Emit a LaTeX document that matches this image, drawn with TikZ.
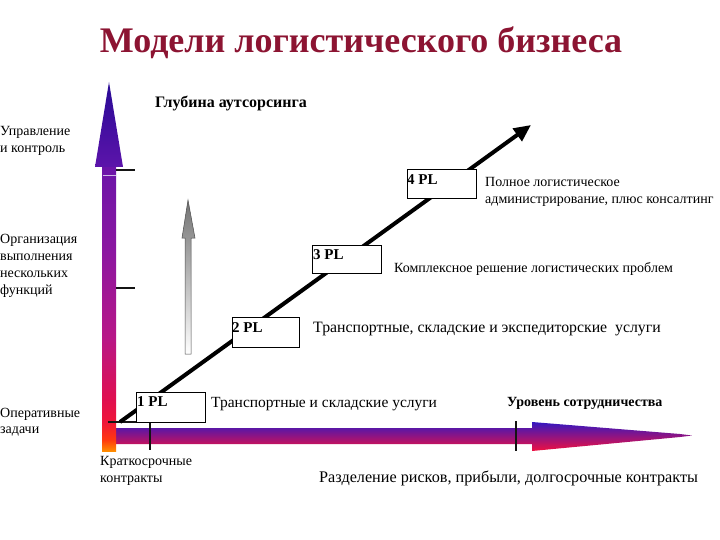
\documentclass[tikz,border=0pt]{standalone}
\usepackage{fontspec}
\setmainfont{Liberation Serif}
\usetikzlibrary{arrows.meta}
\definecolor{titlered}{RGB}{140,20,50}
\definecolor{hblue}{RGB}{52,24,192}
\definecolor{hred}{RGB}{240,16,64}
\definecolor{vtop}{RGB}{40,10,150}
\definecolor{vbot}{RGB}{92,20,170}
\definecolor{tickc}{RGB}{20,20,20}
\pgfdeclareverticalshading{vshaft}{100bp}{rgb(0bp)=(1,0.55,0); rgb(25bp)=(1,0.55,0); rgb(27bp)=(1,0.22,0.06); rgb(30bp)=(0.94,0.09,0.22); rgb(34bp)=(0.88,0.06,0.31); rgb(45bp)=(0.72,0.09,0.53); rgb(60bp)=(0.55,0.09,0.63); rgb(75bp)=(0.42,0.08,0.66); rgb(100bp)=(0.42,0.08,0.66)}
\begin{document}
\begin{tikzpicture}[x=1pt,y=-1pt,
  txt/.style={anchor=base west,inner sep=0pt,align=left,font=\fontsize{15.5}{17}\selectfont},
  ltxt/.style={anchor=base west,inner sep=0pt,align=left,font=\fontsize{14}{17}\selectfont},
  btxt/.style={anchor=base west,inner sep=0pt,font=\bfseries\fontsize{15}{17}\selectfont},
  plbox/.style={draw=black,fill=white,line width=0.8pt,anchor=north west,inner sep=0pt},
  pltext/.style={anchor=base west,inner sep=0pt,font=\bfseries\fontsize{15}{17}\selectfont},
  tickline/.style={draw=tickc,line width=2.6pt}
]
\useasboundingbox (0,0) rectangle (720,540);

% title
\node[anchor=base,inner sep=0pt,text=titlered,font=\bfseries\fontsize{36}{40}\selectfont] (title) at (361,53) {Модели логистического бизнеса};

% horizontal arrow
\shade[top color=hblue,bottom color=hred] (116,428) -- (532,428) -- (532,422) -- (680,434) -- (692,435.5) -- (680,437) -- (532,451) -- (532,444) -- (116,444) -- cycle;

% vertical arrow
\shade[shading=vshaft] (102,167) rectangle (116,451);
\shade[top color=vtop,bottom color=vbot] (109,82) -- (123,167) -- (95,167) -- cycle;
\draw[white!70!vbot,line width=0.6pt] (102.5,175) -- (115.5,175);

% ticks
\draw[tickline] (116,170) -- (135,170);
\draw[tickline] (116,288) -- (135,288);
\draw[tickline] (108,422) -- (137,422);
\draw[tickline] (150,422) -- (150,450);
\draw[tickline] (516,421) -- (516,451);

% grey arrow
\shade[top color=gray!90!black,bottom color=white,draw=gray!60!black,line width=0.5pt]
  (185,354) -- (185,238) -- (182,238) -- (188,200) -- (195,238) -- (191,238) -- (191,354) -- cycle;

% diagonal
\coordinate (d0) at (120,422);
\coordinate (d1) at (531,125);
\draw[line width=4pt,-{Triangle[length=17pt,width=15pt]}] (d0) -- (d1);

% boxes
\node[plbox,minimum width=69pt,minimum height=30pt] (b1) at (136,392) {};
\node[plbox,minimum width=67pt,minimum height=30pt] (b2) at (232,317) {};
\node[plbox,minimum width=69pt,minimum height=28pt] (b3) at (312,245) {};
\node[plbox,minimum width=69pt,minimum height=29pt] (b4) at (407,169) {};
\node[pltext] (l1) at (137,406) {1 PL};
\node[pltext] (l2) at (232,332) {2 PL};
\node[pltext] (l3) at (313,259) {3 PL};
\node[pltext] (l4) at (407,185) {4 PL};

% texts
\node[btxt,font=\bfseries\fontsize{16}{17}\selectfont] (depth) at (155,108) {Глубина аутсорсинга};
\node[btxt,font=\bfseries\fontsize{14}{17}\selectfont] (level) at (507,406) {Уровень сотрудничества};
\node[ltxt,font=\fontsize{14}{16.5}\selectfont] (y1) at (0,152.5) {Управление\\и контроль};
\node[ltxt] (y2) at (0,294) {Организация\\выполнения\\нескольких\\функций};
\node[ltxt,font=\fontsize{14}{16.5}\selectfont] (y3) at (0,433.5) {Оперативные\\задачи};
\node[ltxt] (x1) at (100,482) {Краткосрочные\\контракты};
\node[txt,font=\fontsize{16.2}{17}\selectfont] (x2) at (319,482) {Разделение рисков, прибыли, долгосрочные контракты};
\node[txt] (t1) at (211,407) {Транспортные и складские услуги};
\node[txt,font=\fontsize{15.8}{17}\selectfont] (t2) at (313,332) {Транспортные, складские и экспедиторские\ \ услуги};
\node[txt,font=\fontsize{14}{17}\selectfont] (t3) at (394,272) {Комплексное решение логистических проблем};
\node[txt,font=\fontsize{14}{16.5}\selectfont] (t4) at (485,203.5) {Полное логистическое\\администрирование, плюс консалтинг};
\end{tikzpicture}
\end{document}
